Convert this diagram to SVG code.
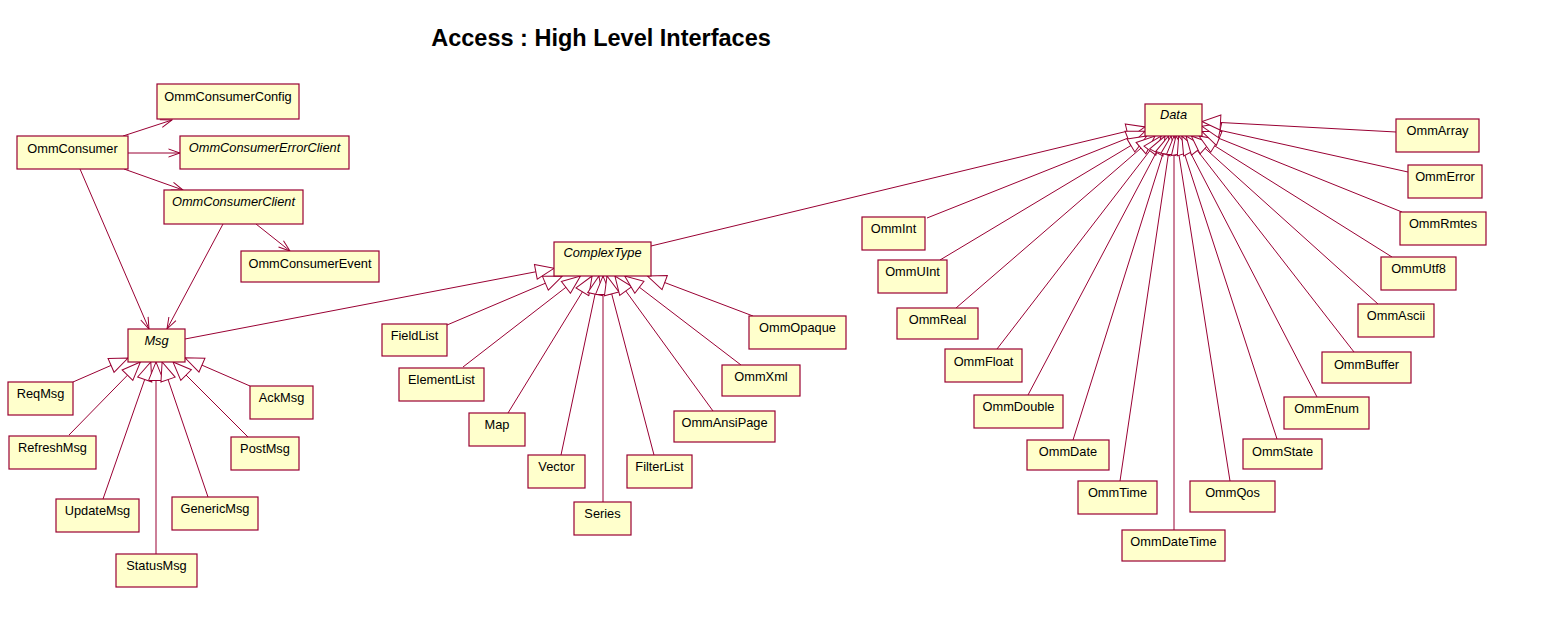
<svg xmlns="http://www.w3.org/2000/svg" width="1561" height="622" viewBox="0 0 1561 622">
<style>
.b{fill:#FFFFCC;stroke:#990033;stroke-width:1.2}
.t{font-family:"Liberation Sans",Arial,sans-serif;font-size:12.8px;fill:#000;text-anchor:middle}
.i{font-style:italic}
.c path,.c line{stroke:#990033;stroke-width:1;fill:none}
.g{marker-end:url(#tri)}
.a{marker-end:url(#open)}
</style>
<defs>
<marker id="tri" markerUnits="userSpaceOnUse" markerWidth="21" markerHeight="17" viewBox="0 0 21 17" refX="19.5" refY="8.5" orient="auto">
<path d="M1,1 L19.5,8.5 L1,16 Z" fill="#FFFFFF" stroke="#990033" stroke-width="1"/>
</marker>
<marker id="open" markerUnits="userSpaceOnUse" markerWidth="14" markerHeight="10" viewBox="0 0 14 10" refX="12.5" refY="5" orient="auto">
<path d="M1,1 L12.5,5 L1,9" fill="none" stroke="#990033" stroke-width="1"/>
</marker>
</defs>
<rect width="1561" height="622" fill="#FFFFFF"/>
<text x="601" y="46" style="font-family:'Liberation Sans',Arial,sans-serif;font-size:23.5px;font-weight:bold;text-anchor:middle">Access : High Level Interfaces</text>
<g id="connectors" class="c">
<line class="a" x1="123" y1="136" x2="172" y2="120"/>
<line class="a" x1="128" y1="153" x2="180" y2="153"/>
<line class="a" x1="124" y1="169" x2="183" y2="190"/>
<line class="a" x1="256" y1="224" x2="290" y2="251"/>
<line class="a" x1="80" y1="169" x2="149" y2="329"/>
<line class="a" x1="223" y1="224" x2="167" y2="329"/>
<line class="g" x1="73" y1="382" x2="128" y2="358"/>
<line class="g" x1="69" y1="435" x2="140.4" y2="362"/>
<line class="g" x1="103" y1="499" x2="150.8" y2="362"/>
<line class="g" x1="156" y1="554" x2="156" y2="362"/>
<line class="g" x1="208" y1="497" x2="162.1" y2="362"/>
<line class="g" x1="248" y1="437" x2="173" y2="362"/>
<line class="g" x1="250" y1="386" x2="185" y2="357.8"/>
<line class="g" x1="185" y1="339" x2="554" y2="268.3"/>
<line class="g" x1="447" y1="325" x2="562.4" y2="276"/>
<line class="g" x1="463" y1="367" x2="580.5" y2="276"/>
<line class="g" x1="508" y1="413" x2="592.1" y2="276"/>
<line class="g" x1="561" y1="455" x2="598.9" y2="276"/>
<line class="g" x1="603" y1="502" x2="603" y2="276"/>
<line class="g" x1="654" y1="455" x2="607" y2="276"/>
<line class="g" x1="713" y1="411" x2="614.9" y2="276"/>
<line class="g" x1="741" y1="365" x2="624.7" y2="276"/>
<line class="g" x1="753" y1="316" x2="647.4" y2="276"/>
<line class="g" x1="651" y1="246" x2="1145" y2="126.9"/>
<line class="g" x1="927" y1="218" x2="1145" y2="131.3"/>
<line class="g" x1="940" y1="260" x2="1146.8" y2="136"/>
<line class="g" x1="956" y1="308" x2="1155" y2="136"/>
<line class="g" x1="997" y1="349" x2="1161.2" y2="136"/>
<line class="g" x1="1028" y1="395" x2="1165" y2="136"/>
<line class="g" x1="1073" y1="440" x2="1168.5" y2="136"/>
<line class="g" x1="1120" y1="481" x2="1171.1" y2="136"/>
<line class="g" x1="1174" y1="530" x2="1174" y2="136"/>
<line class="g" x1="1230" y1="481" x2="1176" y2="136"/>
<line class="g" x1="1277" y1="439" x2="1178.7" y2="136"/>
<line class="g" x1="1317" y1="397" x2="1181.8" y2="136"/>
<line class="g" x1="1354" y1="352" x2="1186" y2="136"/>
<line class="g" x1="1378" y1="304" x2="1191.3" y2="136"/>
<line class="g" x1="1392" y1="257" x2="1199" y2="136"/>
<line class="g" x1="1402" y1="212" x2="1202" y2="131.5"/>
<line class="g" x1="1408" y1="172" x2="1202" y2="126.3"/>
<line class="g" x1="1396" y1="132" x2="1202" y2="121.5"/>
</g>
<g id="OmmConsumerConfig"><rect class="b" x="157" y="84" width="142" height="35"/><text class="t" x="228" y="101">OmmConsumerConfig</text></g>
<g id="OmmConsumer"><rect class="b" x="17" y="136" width="111" height="33"/><text class="t" x="72.5" y="153">OmmConsumer</text></g>
<g id="OmmConsumerErrorClient"><rect class="b" x="180" y="136" width="169" height="33"/><text class="t i" x="264.5" y="152">OmmConsumerErrorClient</text></g>
<g id="OmmConsumerClient"><rect class="b" x="164" y="190" width="139" height="34"/><text class="t i" x="233.5" y="206">OmmConsumerClient</text></g>
<g id="OmmConsumerEvent"><rect class="b" x="241" y="251" width="138" height="31"/><text class="t" x="310" y="268">OmmConsumerEvent</text></g>
<g id="Msg"><rect class="b" x="128" y="329" width="57" height="33"/><text class="t i" x="156.5" y="345">Msg</text></g>
<g id="ReqMsg"><rect class="b" x="8" y="382" width="65" height="33"/><text class="t" x="40.5" y="398">ReqMsg</text></g>
<g id="AckMsg"><rect class="b" x="250" y="386" width="63" height="33"/><text class="t" x="281.5" y="402">AckMsg</text></g>
<g id="RefreshMsg"><rect class="b" x="9" y="436" width="87" height="33"/><text class="t" x="52.5" y="452">RefreshMsg</text></g>
<g id="PostMsg"><rect class="b" x="231" y="437" width="68" height="33"/><text class="t" x="265" y="453">PostMsg</text></g>
<g id="UpdateMsg"><rect class="b" x="56" y="499" width="83" height="33"/><text class="t" x="97.5" y="515">UpdateMsg</text></g>
<g id="GenericMsg"><rect class="b" x="172" y="497" width="86" height="33"/><text class="t" x="215" y="513">GenericMsg</text></g>
<g id="StatusMsg"><rect class="b" x="116" y="554" width="81" height="33"/><text class="t" x="156.5" y="570">StatusMsg</text></g>
<g id="ComplexType"><rect class="b" x="554" y="242" width="97" height="34"/><text class="t i" x="602.5" y="257">ComplexType</text></g>
<g id="FieldList"><rect class="b" x="382" y="324" width="65" height="32"/><text class="t" x="414.5" y="340">FieldList</text></g>
<g id="ElementList"><rect class="b" x="399" y="368" width="85" height="33"/><text class="t" x="441.5" y="384">ElementList</text></g>
<g id="Map"><rect class="b" x="469" y="413" width="56" height="33"/><text class="t" x="497" y="429">Map</text></g>
<g id="Vector"><rect class="b" x="528" y="455" width="57" height="33"/><text class="t" x="556.5" y="471">Vector</text></g>
<g id="Series"><rect class="b" x="574" y="502" width="57" height="33"/><text class="t" x="602.5" y="518">Series</text></g>
<g id="FilterList"><rect class="b" x="627" y="455" width="65" height="33"/><text class="t" x="659.5" y="471">FilterList</text></g>
<g id="OmmAnsiPage"><rect class="b" x="674" y="411" width="101" height="31"/><text class="t" x="724.5" y="427">OmmAnsiPage</text></g>
<g id="OmmXml"><rect class="b" x="722" y="365" width="78" height="31"/><text class="t" x="761" y="381">OmmXml</text></g>
<g id="OmmOpaque"><rect class="b" x="749" y="316" width="97" height="33"/><text class="t" x="797.5" y="332">OmmOpaque</text></g>
<g id="Data"><rect class="b" x="1145" y="104" width="57" height="32"/><text class="t i" x="1173.5" y="119">Data</text></g>
<g id="OmmInt"><rect class="b" x="862" y="217" width="63" height="33"/><text class="t" x="893.5" y="233">OmmInt</text></g>
<g id="OmmUInt"><rect class="b" x="878" y="260" width="69" height="33"/><text class="t" x="912.5" y="276">OmmUInt</text></g>
<g id="OmmReal"><rect class="b" x="897" y="308" width="81" height="31"/><text class="t" x="937.5" y="324">OmmReal</text></g>
<g id="OmmFloat"><rect class="b" x="945" y="349" width="77" height="33"/><text class="t" x="983.5" y="366">OmmFloat</text></g>
<g id="OmmDouble"><rect class="b" x="974" y="395" width="89" height="33"/><text class="t" x="1018.5" y="411">OmmDouble</text></g>
<g id="OmmDate"><rect class="b" x="1027" y="440" width="82" height="30"/><text class="t" x="1068" y="456">OmmDate</text></g>
<g id="OmmTime"><rect class="b" x="1078" y="481" width="79" height="33"/><text class="t" x="1117.5" y="497">OmmTime</text></g>
<g id="OmmDateTime"><rect class="b" x="1122" y="530" width="103" height="31"/><text class="t" x="1173.5" y="546">OmmDateTime</text></g>
<g id="OmmQos"><rect class="b" x="1190" y="481" width="85" height="31"/><text class="t" x="1232.5" y="497">OmmQos</text></g>
<g id="OmmState"><rect class="b" x="1243" y="439" width="79" height="30"/><text class="t" x="1282.5" y="456">OmmState</text></g>
<g id="OmmEnum"><rect class="b" x="1284" y="397" width="85" height="32"/><text class="t" x="1326.5" y="413">OmmEnum</text></g>
<g id="OmmBuffer"><rect class="b" x="1322" y="352" width="89" height="31"/><text class="t" x="1366.5" y="369">OmmBuffer</text></g>
<g id="OmmAscii"><rect class="b" x="1358" y="304" width="76" height="33"/><text class="t" x="1396" y="320">OmmAscii</text></g>
<g id="OmmUtf8"><rect class="b" x="1381" y="257" width="75" height="33"/><text class="t" x="1418.5" y="273">OmmUtf8</text></g>
<g id="OmmRmtes"><rect class="b" x="1400" y="212" width="86" height="33"/><text class="t" x="1443" y="228">OmmRmtes</text></g>
<g id="OmmError"><rect class="b" x="1408" y="165" width="74" height="33"/><text class="t" x="1445" y="181">OmmError</text></g>
<g id="OmmArray"><rect class="b" x="1396" y="119" width="83" height="33"/><text class="t" x="1437.5" y="135">OmmArray</text></g>
</svg>
